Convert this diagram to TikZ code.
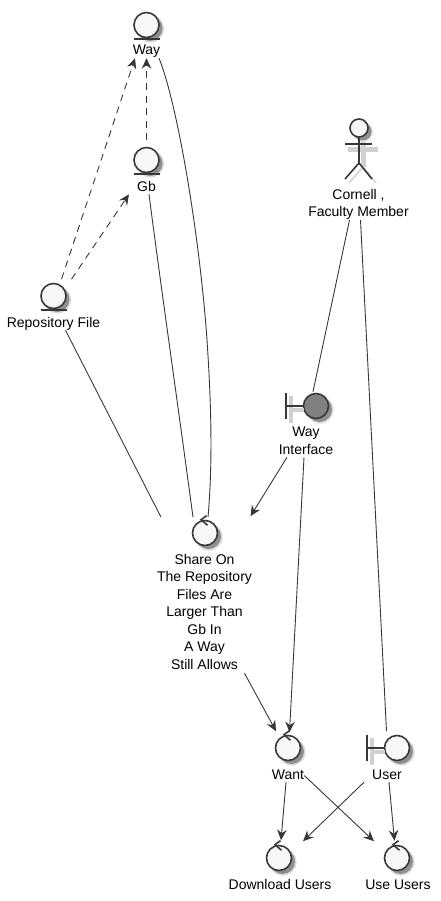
\documentclass[tikz,border=0pt]{standalone}
\usepackage{fontspec}
\setmainfont{Liberation Sans}
\usetikzlibrary{arrows.meta,shadows}
\definecolor{ink}{HTML}{383838}
\definecolor{paper}{HTML}{F7F7F7}
\tikzset{
  softshadow/.style={general shadow={shadow xshift=3.5pt,shadow yshift=-3.5pt,shadow scale=1.1,fill=black,opacity=.14},
    general shadow={shadow xshift=3.5pt,shadow yshift=-3.5pt,fill=black,opacity=.35}},
  icon/.style={circle, draw=ink, line width=1.6pt, fill=paper, minimum size=25pt, inner sep=0pt, softshadow},
  darkicon/.style={icon, fill=black!50},
  lbl/.style={inner sep=0pt, align=center, font=\fontsize{14}{17.5}\selectfont,
    execute at begin node={\rule{0pt}{10pt}}, execute at end node={\rule[-3pt]{0pt}{3pt}}},
  bar/.style={draw=ink, line width=1.6pt},
  conn/.style={draw=ink, line width=0.9pt},
  arr/.style={conn, -{Stealth[length=10.5pt,width=9.5pt,inset=3.5pt]}},
  darr/.style={arr, dash pattern=on 7pt off 5.5pt},
}
\newcommand{\entitybar}[1]{\draw[bar] ([xshift=-13pt,yshift=-14pt]#1.center) -- ([xshift=13pt,yshift=-14pt]#1.center);}
\newcommand{\controlmark}[1]{\draw[bar] ([xshift=1.5pt,yshift=4pt]#1.north) -- ([xshift=-4pt]#1.north) -- ([xshift=2.5pt,yshift=-5.5pt]#1.north);}
\newcommand{\boundarybar}[1]{
  \draw[black!18,line width=4pt] ([xshift=-26pt,yshift=-3.5pt]#1.center) -- ([xshift=-12pt,yshift=-3.5pt]#1.center);
  \draw[black!18,line width=3.5pt] ([xshift=-25pt,yshift=10pt]#1.center) -- ([xshift=-25pt,yshift=-17pt]#1.center);
  \draw[bar] ([xshift=-30pt,yshift=13pt]#1.center) -- ([xshift=-30pt,yshift=-13pt]#1.center);
  \draw[bar] ([xshift=-30pt]#1.center) -- (#1.west);}
\begin{document}
\begin{tikzpicture}[x=1pt,y=-1pt]
\useasboundingbox (0,0) rectangle (440,901);

% entities
\node[icon] (Way) at (146.5,25) {};
\node[lbl] (WayL) at (146.5,51.5) {Way};
\node[icon] (Gb) at (146.5,160) {};
\node[lbl] (GbL) at (146.5,187.5) {Gb};
\node[icon] (Repo) at (53.5,296) {};
\node[lbl] (RepoL) at (53.5,323.5) {Repository File};
\entitybar{Way}
\entitybar{Gb}
\entitybar{Repo}

% actor
\node[circle, draw=ink, line width=1.6pt, fill=paper, minimum size=18pt, inner sep=0pt, softshadow] (Cornell) at (359,128) {};
\draw[black!18,line width=5pt] (348,149.5) -- (378,149.5);
\draw[black!18,line width=5pt] (363,142) -- (363,167);
\draw[black!15,line width=2pt] (363,167) -- (349,183) (363,167) -- (376,183);
\draw[bar] (Cornell.south) -- (359,163) -- (345,179);
\draw[bar] (359,163) -- (372,179);
\draw[bar] (345,144) -- (372,144);
\node[lbl] (CornellL) at (358.5,204.5) {Cornell ,\\Faculty Member};

% boundaries
\node[darkicon] (Iface) at (316,406) {};
\boundarybar{Iface}
\node[lbl] (IfaceL) at (306,442) {Way\\Interface};
\node[icon] (User) at (397,748) {};
\boundarybar{User}
\node[lbl] (UserL) at (387,775.5) {User};

% controls
\node[icon] (Share) at (205,533) {};
\node[lbl] (ShareL) at (204.5,613) {Share On\\The Repository\\Files Are\\Larger Than\\Gb In\\A Way\\Still Allows};
\node[icon] (Want) at (288,748) {};
\node[lbl] (WantL) at (288,775.5) {Want};
\node[icon] (Download) at (279,858) {};
\node[lbl] (DownloadL) at (280,885.5) {Download Users};
\node[icon] (UseU) at (397,858) {};
\node[lbl] (UseL) at (398,885.5) {Use Users};
\controlmark{Share}
\controlmark{Want}
\controlmark{Download}
\controlmark{UseU}

% dashed arrows
\draw[darr] ([shift={(8,-3.5)}]Repo.north) -- ([shift={(-11.5,0)}]WayL.south);
\draw[darr] ([shift={(18,-3.5)}]Repo.north) -- ([shift={(-17.5,0)}]GbL.south);
\draw[darr] ([shift={(0,-6.5)}]Gb.north) -- (WayL.south);

% plain lines
\draw[conn] ([shift={(12.5,0)}]WayL.south) .. controls (178,105) and (200,240) .. (207,340) .. controls (211,400) and (213,460) .. ([shift={(3,-2.5)}]Share.north);
\draw[conn] ([shift={(2.5,0)}]GbL.south) .. controls (160,280) and (180,420) .. ([shift={(-12,-2.5)}]Share.north);
\draw[conn] ([shift={(12,0)}]RepoL.south) -- ([shift={(-44,-2.5)}]Share.north);
\draw[conn] ([shift={(-9,0)}]CornellL.south) -- ([shift={(-3,-1)}]Iface.north);
\draw[conn] ([shift={(2,0)}]CornellL.south) -- ([shift={(-10.5,-3.5)}]User.north);

% solid arrows
\draw[arr] ([shift={(-19,0)}]IfaceL.south) -- ([shift={(45.5,-3.5)}]Share.north);
\draw[arr] ([shift={(-2,0)}]IfaceL.south) -- ([shift={(1.5,-2.5)}]Want.north);
\draw[arr] ([shift={(40,1)}]ShareL.south) -- ([shift={(-12,-3.5)}]Want.north);
\draw[arr] ([shift={(-2,0)}]WantL.south) -- ([shift={(2,-4.5)}]Download.north);
\draw[arr] (WantL.east) -- ([shift={(-23,-3.5)}]UseU.north);
\draw[arr] ([shift={(-23,0)}]UserL.south) -- ([shift={(24,-3.5)}]Download.north);
\draw[arr] ([shift={(2,0)}]UserL.south) -- ([shift={(-2.5,-4)}]UseU.north);
\end{tikzpicture}
\end{document}
